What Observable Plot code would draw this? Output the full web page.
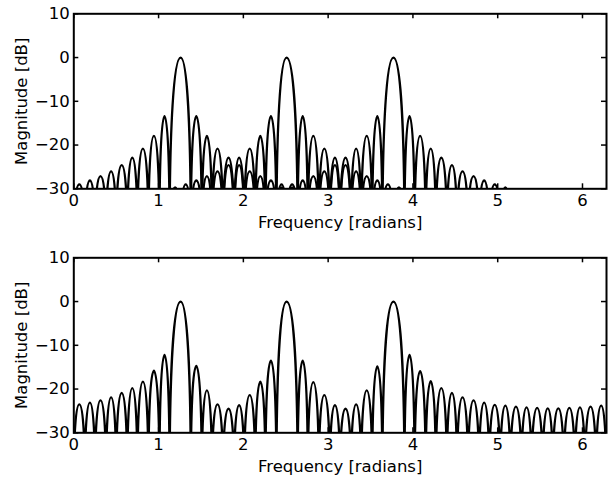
<!DOCTYPE html>
<html><head><meta charset="utf-8">
<script src="https://cdn.jsdelivr.net/npm/d3@7"></script>
<script src="https://cdn.jsdelivr.net/npm/@observablehq/plot@0.6"></script>
<style>
  html,body{margin:0;padding:0;background:#fff;}
  #chart svg{display:block;}
</style>
</head><body><div id="chart"></div>
<script>
// Frequencies (radians) where the curves drop into the nulls (lobe boundaries)
const binEdges = [0.00, 0.13, 0.25, 0.38, 0.50, 0.63, 0.75, 0.88, 1.01, 1.13,
                  1.26, 1.38, 1.51, 1.63, 1.76, 1.89, 2.01, 2.14, 2.26, 2.39,
                  2.51, 2.64, 2.76, 2.89, 3.02, 3.14, 3.27, 3.39, 3.52, 3.64,
                  3.77, 3.90, 4.02, 4.15, 4.27, 4.40, 4.52, 4.65, 4.78, 4.90,
                  5.03, 5.15, 5.28, 5.40, 5.53, 5.65, 5.78, 5.91, 6.03, 6.16, 6.28];
// Main-lobe peak frequencies and levels (dB)
const peakFreqs = [1.26, 2.51, 3.77];
const topPeakLevels = [0, 0, 0];
const bottomPeakLevels = [0, 0, 0];
// Top panel: k-th sidelobe level (dB) on each side of each main lobe
const topSidelobeLevels = [-13.4, -17.9, -20.8, -22.9, -24.6, -26.0, -27.1, -28.1, -29.0, -29.7];
// Bottom panel: sidelobe peak level (dB) of each null-to-null interval (null = inside a main lobe)
const bottomLobeLevels = [
  -23.5, -23.1, -22.6, -21.9, -20.9, -19.8, -18.3, -15.8, -12.2, null,
  null, -14.7, -20.3, -23.5, -24.5, -23.7, -21.4, -18.3, -13.5, null,
  null, -13.5, -18.4, -21.4, -23.7, -24.5, -23.5, -20.3, -14.8, null,
  null, -12.2, -15.9, -18.2, -19.8, -20.9, -21.9, -22.6, -23.1, -23.6,
  -23.8, -24.0, -24.2, -24.3, -24.4, -24.4, -24.3, -24.2, -24.0, -23.8];
const xTicks = [0, 1, 2, 3, 4, 5, 6];
const yTicks = [-30, -20, -10, 0, 10];
const floorDb = -30;
const xLabel = "Frequency [radians]";
const yLabel = "Magnitude [dB]";

// Turn lobes {x0, xp, yp, x1} into a point sequence foot-peak-foot...
function lobesToPoints(lobes, series) {
  const pts = [];
  let lastX = null;
  for (const l of lobes) {
    if (lastX !== l.x0) pts.push({x: l.x0, y: floorDb, s: series});
    pts.push({x: l.xp, y: l.yp, s: series});
    pts.push({x: l.x1, y: floorDb, s: series});
    lastX = l.x1;
  }
  return pts;
}

function topData() {
  let all = [];
  peakFreqs.forEach((f, s) => {
    const c = binEdges.indexOf(f);
    const n = topSidelobeLevels.length;
    const lobes = [];
    for (let j = n; j >= 1; j--) {
      const a = c - j - 1, b = c - j;
      if (a < 0) continue;
      lobes.push({x0: binEdges[a], xp: (binEdges[a] + binEdges[b]) / 2, yp: topSidelobeLevels[j - 1], x1: binEdges[b]});
    }
    lobes.push({x0: binEdges[c - 1], xp: f, yp: topPeakLevels[s], x1: binEdges[c + 1]});
    for (let j = 1; j <= n; j++) {
      const a = c + j, b = c + j + 1;
      if (b >= binEdges.length) break;
      lobes.push({x0: binEdges[a], xp: (binEdges[a] + binEdges[b]) / 2, yp: topSidelobeLevels[j - 1], x1: binEdges[b]});
    }
    all = all.concat(lobesToPoints(lobes, s));
  });
  return all;
}

function bottomData() {
  const lobes = [];
  for (let k = 0; k < bottomLobeLevels.length; k++) {
    const pi = peakFreqs.indexOf(binEdges[k + 1]);
    if (pi >= 0) {
      lobes.push({x0: binEdges[k], xp: binEdges[k + 1], yp: bottomPeakLevels[pi], x1: binEdges[k + 2]});
      k++;
    } else if (bottomLobeLevels[k] != null) {
      lobes.push({x0: binEdges[k], xp: (binEdges[k] + binEdges[k + 1]) / 2, yp: bottomLobeLevels[k], x1: binEdges[k + 1]});
    }
  }
  return lobesToPoints(lobes, 0);
}

// Arch-shaped curve: plunges (below the clipped axis) at the nulls, flat at the lobe peaks
function archCurve(context) {
  let px, py, i;
  const K = 0.62, D = 48;
  return {
    areaStart() {}, areaEnd() {},
    lineStart() { i = 0; },
    lineEnd() {},
    point(x, y) {
      x = +x; y = +y;
      if (i++ === 0) { context.moveTo(x, y + D); px = x; py = y + D; return; }
      if (y < py) { // rising to a peak
        context.bezierCurveTo(px, py - K * (py - y), x - K * (x - px), y, x, y);
        px = x; py = y;
      } else { // falling into a null
        const yf = y + D;
        context.bezierCurveTo(px + K * (x - px), py, x, yf - K * (yf - py), x, yf);
        px = x; py = yf;
      }
    }
  };
}

const fmt = d => d < 0 ? "\u2212" + (-d) : String(d);
const W = 614, ML = 73.3, MR = 8;
const innerW = W - ML - MR, innerH = 175, tick = 5;
const FONT = "'DejaVu Sans', sans-serif", FS = 16.5;

function panel(data, height, mt, mb) {
  return Plot.plot({
    width: W, height,
    marginLeft: ML, marginRight: MR, marginTop: mt, marginBottom: mb,
    style: {fontFamily: FONT, fontSize: FS + "px", color: "black", background: "white"},
    x: {domain: [0, 2 * Math.PI]},
    y: {domain: [-30, 10]},
    marks: [
      Plot.line(data, {x: "x", y: "y", z: "s", curve: archCurve, stroke: "black", strokeWidth: 2.3, clip: true}),
      Plot.tickX(xTicks, {x: d => d, insetTop: innerH - tick, stroke: "black", strokeWidth: 1.5}),
      Plot.tickX(xTicks, {x: d => d, insetBottom: innerH - tick, stroke: "black", strokeWidth: 1.5}),
      Plot.tickY(yTicks, {y: d => d, insetRight: innerW - tick, stroke: "black", strokeWidth: 1.5}),
      Plot.tickY(yTicks, {y: d => d, insetLeft: innerW - tick, stroke: "black", strokeWidth: 1.5}),
      Plot.frame({stroke: "black", strokeWidth: 2}),
      Plot.axisX({ticks: xTicks, tickSize: 0, tickPadding: 5, tickFormat: fmt, label: null, fill: "black", fontSize: FS, fontFamily: FONT}),
      Plot.axisY({ticks: yTicks, tickSize: 0, tickPadding: 4, tickFormat: fmt, label: null, fill: "black", fontSize: FS, fontFamily: FONT}),
      Plot.text([xLabel], {text: d => d, frameAnchor: "bottom", dy: 33.5, lineAnchor: "middle", fill: "black", fontSize: FS, fontFamily: FONT}),
      Plot.text([yLabel], {text: d => d, frameAnchor: "left", dx: -52, rotate: -90, lineAnchor: "middle", textAnchor: "middle", fill: "black", fontSize: FS, fontFamily: FONT})
    ]
  });
}

const el = document.getElementById("chart");
el.appendChild(panel(topData(), 239, 13.3, 50.7));
el.appendChild(panel(bottomData(), 238, 18.3, 44.7));
</script>
</body></html>
